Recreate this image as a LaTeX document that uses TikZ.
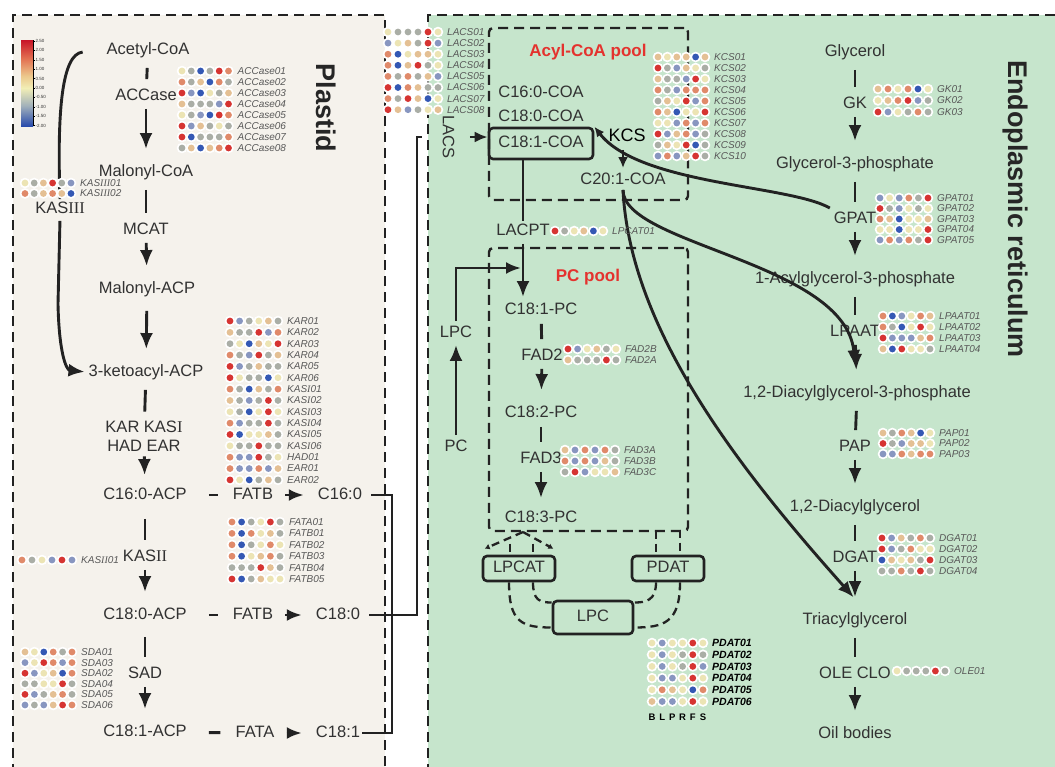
\documentclass[tikz,border=0pt]{standalone}
\usepackage{fontspec}
\setmainfont{Liberation Sans}
\newfontfamily\romfont{Liberation Serif}
\usepackage{xstring}
\usetikzlibrary{arrows.meta,calc}

\definecolor{plastidbg}{RGB}{245,242,236}
\definecolor{erbg}{RGB}{198,229,204}
\definecolor{linec}{RGB}{34,34,34}
\definecolor{txtc}{RGB}{50,50,50}
\definecolor{labc}{RGB}{88,88,88}
\definecolor{poolred}{RGB}{228,50,46}
% heatmap colours
\definecolor{hmr}{RGB}{214,52,50}
\definecolor{hmo}{RGB}{224,138,106}
\definecolor{hmt}{RGB}{228,192,148}
\definecolor{hmy}{RGB}{236,228,180}
\definecolor{hmg}{RGB}{170,174,166}
\definecolor{hms}{RGB}{136,150,192}
\definecolor{hmb}{RGB}{52,88,180}
% legend colours
\definecolor{lg1}{RGB}{200,20,40}
\definecolor{lg2}{RGB}{226,110,80}
\definecolor{lg3}{RGB}{236,200,140}
\definecolor{lg4}{RGB}{242,238,182}
\definecolor{lg5}{RGB}{160,175,186}
\definecolor{lg6}{RGB}{40,75,172}

\newcommand\rn[1]{{\romfont #1}}

% heatmap: name, x0, y0, dx, dy, label style, rows (label/colours)
\newcommand\heatmap[7]{%
  \foreach \lab/\cols [count=\r from 0] in {#7} {
    \foreach \k in {1,...,6} {
      \StrChar{\cols}{\k}[\dotc]
      \fill[white] ({#2+(\k-1)*#4},{#3+\r*#5}) circle[radius=5.3pt];
      \fill[hm\dotc] ({#2+(\k-1)*#4},{#3+\r*#5}) circle[radius=3.4pt];
    }
    \node[#6] (#1-\r) at ({#2+5*#4+9},{#3+\r*#5}) {\lab};
  }
}

\tikzset{
  met/.style={font=\fontsize{16.5}{19}\selectfont, text=txtc, inner sep=2pt,
    text height=12pt, text depth=3.5pt},
  flow/.style={draw=linec, line width=2.9pt},
  stub/.style={flow, shorten <=8pt, shorten >=7pt},
  arr/.style={flow, shorten <=3pt, shorten >=13pt, -{Latex[length=16pt,width=13pt]}},
  hstub/.style={flow, shorten <=20pt, shorten >=13pt},
  harr/.style={flow, shorten <=10pt, shorten >=12pt, -{Latex[length=15pt,width=12pt]}},
  border/.style={draw=linec, line width=2.6pt, dash pattern=on 10pt off 6pt},
  poolbox/.style={draw=linec, line width=2.4pt, dash pattern=on 10pt off 6pt,
    rounded corners=4pt, inner sep=0pt},
  dashc/.style={draw=linec, line width=2.3pt, dash pattern=on 8pt off 5pt},
  ebox/.style={met, draw=linec, line width=2.6pt, rounded corners=4pt},
  pooltxt/.style={font=\fontsize{17}{19}\selectfont\bfseries, text=poolred},
  region/.style={font=\fontsize{27}{30}\selectfont\bfseries, text=black!85, rotate=-90},
  hlab/.style={anchor=west, inner sep=0pt, font=\fontsize{10}{11}\selectfont\itshape, text=labc},
  pdatlab/.style={anchor=west, inner sep=0pt, font=\fontsize{10.5}{11}\selectfont\bfseries\itshape, text=black},
  ticklab/.style={anchor=west, inner sep=0pt, font=\fontsize{4.5}{5}\selectfont, text=black!80},
}

\begin{document}
\begin{tikzpicture}[x=1pt, y=-1pt]
\useasboundingbox (0,0) rectangle (1055,766);
\clip (0,0) rectangle (1055,766);

% compartments
\fill[plastidbg] (13,15) rectangle (385,790);
\fill[erbg] (428,15) rectangle (1080,790);
\draw[border] (13,790) -- (13,15) -- (385,15) -- (385,790);
\draw[border] (428,790) -- (428,15) -- (1080,15);
\node[region] (plastid) at (326,108) {Plastid};
\node[region] (er) at (1015,209) {Endoplasmic reticulum};

% colour scale
\foreach \ya/\yb/\ca/\cb in {40/58/lg1/lg2, 58/76/lg2/lg3, 76/88/lg3/lg4, 88/106/lg4/lg5, 106/126/lg5/lg6}
  \shade[top color=\ca, bottom color=\cb] (21,\ya) rectangle (33,\yb);
\draw[black, line width=0.8pt] (33,40) -- (33,126);
\foreach \v [count=\i from 0] in {2.50,2.00,1.50,1.00,0.50,0.00,-0.50,-1.00,-1.50,-2.00} {
  \draw[black, line width=0.4pt] (33,{41+\i*9.4}) -- (35,{41+\i*9.4});
  \node[ticklab] (tick\i) at (35.5,{41+\i*9.4}) {\v};
}

% plastid pathway
\node[met] (acetyl) at (148,50) {Acetyl-CoA};
\node[met] (accase) at (146,96) {ACCase};
\node[met] (malcoa) at (146,172) {Malonyl-CoA};
\node[met] (mcat) at (146,230) {MCAT};
\node[met] (malacp) at (147,289) {Malonyl-ACP};
\node[met] (keto) at (146,372) {3-ketoacyl-ACP};
\node[met, align=center, text height=, text depth=] (kar) at (144,436) {KAR KAS\rn{I}\\HAD EAR};
\node[met] (c16acp) at (145,495) {C16:0-ACP};
\node[met] (kas2) at (145,557) {KAS\rn{II}};
\node[met] (c18acp) at (145,615) {C18:0-ACP};
\node[met] (sad) at (145,674) {SAD};
\node[met] (c181acp) at (145,732) {C18:1-ACP};
\node[met] (kas3) at (60,209) {KAS\rn{III}};
\node[met] (fatb1) at (253,495) {FATB};
\node[met] (c160) at (340,495) {C16:0};
\node[met] (fatb2) at (253,615) {FATB};
\node[met] (c180) at (338,615) {C18:0};
\node[met] (fata) at (255,733) {FATA};
\node[met] (c181) at (338,733) {C18:1};

\draw[stub] (acetyl) -- (accase);
\draw[arr] (accase) -- (malcoa);
\draw[stub] (malcoa) -- (mcat);
\draw[arr] (mcat) -- (malacp);
\draw[arr, shorten <=12pt] (malacp) -- (keto);
\draw[stub] (keto) -- (kar);
\draw[arr, shorten >=10pt] (kar) -- (c16acp);
\draw[stub, shorten <=14pt] (c16acp) -- (kas2);
\draw[arr] (kas2) -- (c18acp);
\draw[stub, shorten <=12pt] (c18acp) -- (sad);
\draw[arr] (sad) -- (c181acp);
\draw[hstub] (c16acp) -- (fatb1);
\draw[harr] (fatb1) -- (c160);
\draw[hstub] (c18acp) -- (fatb2);
\draw[harr] (fatb2) -- (c180);
\draw[hstub] (c181acp) -- (fata);
\draw[harr] (fata) -- (c181);
\draw[flow, shorten <=22pt] (acetyl.west) .. controls (62,54) and (57,110) .. (kas3.north);
\draw[arr, shorten <=2pt, shorten >=2pt] (kas3.south) -- ($(kas3.south)+(-2,85)$)
  .. controls (59,352) and (66,370) .. (keto.west);

% acyl-CoA pool
\node[poolbox, minimum width=199pt, minimum height=172pt] (acylbox) at (588.5,114) {};
\node[pooltxt] (acyltxt) at (588,52) {Acyl-CoA pool};
\node[met] (c160coa) at (541,93) {C16:0-COA};
\node[met] (c180coa) at (541,117) {C18:0-COA};
\node[ebox, minimum width=104pt, minimum height=31pt] (c181coa) at (541,143.5) {C18:1-COA};
\node[met, text=black, font=\fontsize{18}{20}\selectfont] (kcs) at (627,137) {KCS};
\node[met] (c201coa) at (623,180) {C20:1-COA};
\node[met, rotate=-90] (lacs) at (447,137) {LACS};
\coordinate (brk) at (392,0);
\coordinate (lacsturn) at (417,137);
\draw[flow, shorten <=7pt] (c160.east) -- (c160.east -| brk) -- (c181.east -| brk) -- (c181.east);
\draw[flow, shorten <=7pt, shorten >=15pt] (c180.east) -| (lacsturn) -- (lacs);
\draw[flow, shorten <=13pt, -{Latex[length=13pt,width=11pt]}] (lacs) -- (lacs -| c181coa.west);
\draw[flow, shorten <=3pt, shorten >=2pt, -{Latex[length=11pt,width=10pt]}] (kcs.south -| c201coa) -- (c201coa.north);

% PC pool
\node[poolbox, minimum width=199pt, minimum height=283pt] (pcbox) at (588.5,389.5) {};
\node[pooltxt] (pctxt) at (588,277) {PC pool};
\node[met] (lacpt) at (523,231) {LACPT};
\node[met] (c181pc) at (541,310) {C18:1-PC};
\node[met] (fad2) at (542,356) {FAD2};
\node[met] (c182pc) at (541,413) {C18:2-PC};
\node[met] (fad3) at (541,459) {FAD3};
\node[met] (c183pc) at (541,518) {C18:3-PC};
\node[met] (lpcl) at (456,333) {LPC};
\node[met] (pc) at (456,447) {PC};
\coordinate (join) at (521,268);
\draw[flow] (lacpt.north |- c181coa.south) -- (lacpt.north);
\draw[arr, shorten >=3pt] (lacpt.south) -- (lacpt.south |- c181pc.north);
\draw[arr, shorten <=2pt, shorten >=2pt] (pc.north) -- (lpcl.south);
\draw[flow, shorten <=2pt, -{Latex[length=15pt,width=12pt]}] (lpcl.north) |- (join);
\draw[stub, shorten <=4pt] (c181pc) -- (fad2);
\draw[arr] (fad2) -- (c182pc);
\draw[stub, shorten <=4pt] (c182pc) -- (fad3);
\draw[arr, shorten >=10pt] (fad3) -- (c183pc);

% LPCAT / PDAT cycle
\node[ebox, minimum width=72pt, minimum height=25pt] (lpcat) at (519,568.5) {LPCAT};
\node[ebox, minimum width=72pt, minimum height=25pt] (pdat) at (668,568.5) {PDAT};
\node[ebox, minimum width=80pt, minimum height=33pt] (lpcbox) at (593,617.5) {LPC};
\coordinate (apex) at (523,532);
\draw[dashc, -{Latex[length=5pt,width=6pt]}] (apex) -- ($(lpcat.north west)+(3,-6)$);
\draw[dashc, -{Latex[length=5pt,width=6pt]}] (apex) -- ($(lpcat.north east)+(-3,-6)$);
\draw[dashc] ($(lpcat.north)+(-9,-11)$) -- ($(lpcat.north)+(-9,0)$);
\draw[dashc] ($(lpcat.north)+(14,-11)$) -- ($(lpcat.north)+(14,0)$);
\draw[dashc] ($(pdat.north)+(-12,-24)$) -- ($(pdat.north)+(-12,0)$);
\draw[dashc] ($(pdat.north)+(12,-25)$) -- ($(pdat.north)+(12,0)$);
\draw[dashc] ($(lpcat.south)+(-10,0)$) .. controls +(0,40) and +(-30,0) .. ($(lpcbox.west)+(0,10)$);
\draw[dashc] ($(lpcat.south)+(14,0)$) .. controls +(0,18) and +(-12,0) .. ($(lpcbox.west)+(0,-15)$);
\draw[dashc] ($(pdat.south)+(12,0)$) .. controls +(0,40) and +(30,0) .. ($(lpcbox.east)+(0,10)$);
\draw[dashc] ($(pdat.south)+(-12,0)$) .. controls +(0,18) and +(12,0) .. ($(lpcbox.east)+(0,-15)$);

% TAG pathway
\node[met] (glycerol) at (855,52) {Glycerol};
\node[met] (gk) at (855,104) {GK};
\node[met] (g3p) at (855,164) {Glycerol-3-phosphate};
\node[met] (gpat) at (855,219) {GPAT};
\node[met] (lpa) at (855,279) {1-Acylglycerol-3-phosphate};
\node[met] (lpaat) at (855,332) {LPAAT};
\node[met] (pa) at (857,393) {1,2-Diacylglycerol-3-phosphate};
\node[met] (pap) at (855,447) {PAP};
\node[met] (dag) at (855,507) {1,2-Diacylglycerol};
\node[met] (dgat) at (855,558) {DGAT};
\node[met] (tag) at (855,620) {Triacylglycerol};
\node[met] (oleclo) at (855,674) {OLE CLO};
\node[met] (oil) at (855,734) {Oil bodies};
\draw[stub] (glycerol) -- (gk);
\draw[arr] (gk) -- (g3p);
\draw[stub] (g3p) -- (gpat);
\draw[arr] (gpat) -- (lpa);
\draw[stub] (lpa) -- (lpaat);
\draw[arr] (lpaat) -- (pa);
\draw[stub] (pa) -- (pap);
\draw[arr] (pap) -- (dag);
\draw[stub] (dag) -- (dgat);
\draw[arr] (dgat) -- (tag);
\draw[stub] (tag) -- (oleclo);
\draw[arr] (oleclo) -- (oil);

% acyl-CoA flux curves
\draw[flow, shorten <=2pt, -{Latex[length=10pt,width=9pt]}] (gpat.north west)
  .. controls (790,185) and (640,185) .. (c181coa.north east);
\draw[arr, shorten <=0pt, shorten >=17pt] (c201coa.south)
  .. controls (623,245) and (845,262) .. (pa.north);
\draw[arr, shorten <=0pt, shorten >=17pt] (c201coa.south)
  .. controls (630,330) and (740,470) .. ($(tag.north)+(10,0)$);

% expression heatmaps
\heatmap{accase}{182}{71}{9.3}{11}{hlab}{ACCase01/ygbgro, ACCase02/ogtbog, ACCase03/rsbygt, ACCase04/tgggsr,
  ACCase05/ygsbro, ACCase06/rstgyg, ACCase07/rbgggo, ACCase08/gtbtor}
\heatmap{kasiii}{25}{183}{9.2}{10.5}{hlab}{KAS\rn{III}01/ygtrgs, KAS\rn{III}02/ogtotb}
\heatmap{kar}{230}{321}{9.6}{11.35}{hlab}{KAR01/rsgytg, KAR02/tggrso, KAR03/gybtyr, KAR04/ogsrgt,
  KAR05/rsgtgg, KAR06/ryggby, KAS\rn{I}01/ogbtgo, KAS\rn{I}02/tgsgrg, KAS\rn{I}03/ygbyry,
  KAS\rn{I}04/osggrg, KAS\rn{I}05/rbyytg, KAS\rn{I}06/yggrgg, HAD01/ossrgy, EAR01/ossost, EAR02/rybgtg}
\heatmap{fat}{232}{522}{9.6}{11.4}{hlab}{FATA01/obgyrg, FATB01/oboytg, FATB02/obgyoy, FATB03/obytog,
  FATB04/gggrtg, FATB05/rbgtyy}
\heatmap{kasii}{22}{560}{10}{11}{hlab}{KAS\rn{II}01/ogysrs}
\heatmap{sda}{25}{652}{9.4}{10.6}{hlab}{SDA01/tybogo, SDA03/syroso, SDA02/rsytbo, SDA04/ggyyrg,
  SDA05/rsgtog, SDA06/sgstro}
\heatmap{lacs}{388}{32}{10}{11.1}{hlab}{LACS01/ygggry, LACS02/sytgrs, LACS03/obytty, LACS04/obtrgy,
  LACS05/ogogts, LACS06/rbotgg, LACS07/ogrtby, LACS08/rtsgyt}
\heatmap{kcs}{658}{57}{9.4}{11}{hlab}{KCS01/tyttbt, KCS02/rgstyg, KCS03/tggsry, KCS04/ogsooo,
  KCS05/gtyrso, KCS06/otbyyr, KCS07/yysoso, KCS08/rstosg, KCS09/gtyrbg, KCS10/sostrg}
\heatmap{lpcat}{555}{231}{9.6}{11}{hlab}{LPCAT01/rgytby}
\heatmap{fadtwo}{568}{349}{9.6}{11}{hlab}{FAD2B/rsytgy, FAD2A/tgggrg}
\heatmap{fadthree}{565}{450}{10}{11}{hlab}{FAD3A/tsosog, FAD3B/osostg, FAD3C/grsyyt}
\heatmap{pdat}{652}{643}{10.2}{11.7}{pdatlab}{PDAT01/ysyyry, PDAT02/ysygrg, PDAT03/ysygrs,
  PDAT04/yssyry, PDAT05/yotybo, PDAT06/tssyry}
\foreach \t [count=\k from 0] in {B,L,P,R,F,S}
  \node[inner sep=0pt, font=\fontsize{9.5}{10}\selectfont\bfseries] (tissue\k) at ({652+\k*10.2},717) {\t};
\heatmap{gk}{878}{89}{10}{11.5}{hlab}{GK01/toyoby, GK02/ytorsg, GK03/rsygog}
\heatmap{gpat}{880}{198}{9.6}{10.5}{hlab}{GPAT01/sysogr, GPAT02/rgsygy, GPAT03/otbyyt, GPAT04/yybyyr,
  GPAT05/sosogr}
\heatmap{lpaat}{883}{316}{9.4}{11}{hlab}{LPAAT01/obsyot, LPAAT02/ogbyry, LPAAT03/rsssto, LPAAT04/tbryyg}
\heatmap{pap}{883}{433}{9.4}{10.5}{hlab}{PAP01/tgotby, PAP02/rgstty, PAP03/ssotoo}
\heatmap{dgat}{882}{538}{9.6}{11}{hlab}{DGAT01/rstgog, DGAT02/rsgoyy, DGAT03/btytgr, DGAT04/ggogrg}
\heatmap{ole}{897}{671}{9.6}{11}{hlab}{OLE01/ygggrg}
\end{tikzpicture}
\end{document}
